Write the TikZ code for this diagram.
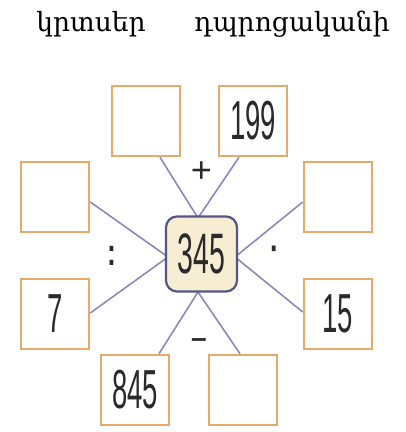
\documentclass[tikz,border=0pt]{standalone}
\usepackage{fontspec}
\newfontfamily\armfont{DejaVu Serif}
\newfontfamily\numfont[FakeStretch=0.5]{Liberation Sans}
\newfontfamily\opfont[FakeStretch=0.7]{Liberation Sans}
\newfontfamily\plusfont{Liberation Sans}
\definecolor{boxorange}{HTML}{E6AA6A}
\definecolor{linecol}{HTML}{8C89B8}
\definecolor{centerborder}{HTML}{55558A}
\definecolor{centerfill}{HTML}{F7EDD3}
\definecolor{numcol}{HTML}{2A2A2A}
\tikzset{
  numbox/.style={draw=boxorange, line width=2.6pt, fill=white, minimum width=68pt, minimum height=70pt, inner sep=0pt, font=\numfont\fontsize{55}{55}\selectfont, text=numcol},
  centerbox/.style={draw=centerborder, line width=2.2pt, fill=centerfill, rounded corners=11pt, minimum width=71pt, minimum height=75pt, inner sep=0pt, font=\numfont\fontsize{57}{57}\selectfont, text=numcol},
  link/.style={draw=linecol, line width=1.6pt},
  opsym/.style={text=numcol, inner sep=0pt},
  title/.style={font=\armfont\fontsize{26.5}{26.5}\selectfont, anchor=base, inner sep=0pt}
}
\begin{document}
\begin{tikzpicture}[x=1pt,y=-1pt]
\useasboundingbox (0,0) rectangle (406,432);
\node[title] (t1) at (91,31) {կրտսեր};
\node[title] (t2) at (292,31) {դպրոցականի};
% junction points on the center box
\coordinate (jt) at (198,218);
\coordinate (jb) at (198,292);
\coordinate (jl) at (168,257);
\coordinate (jr) at (235,257);
% boxes
\node[numbox] (tl) at (146,121) {};
\node[numbox] (tr) at (253,121) {199};
\node[numbox] (ul) at (55,197) {};
\node[numbox] (ur) at (338,197) {};
\node[numbox] (ll) at (55,314) {7};
\node[numbox] (lr) at (338,314) {15};
\node[numbox] (bl) at (135,390) {845};
\node[numbox] (br) at (243,390) {};
% connectors
\draw[link] (tl.south -| 160,0) -- (jt);
\draw[link] (tr.south -| 239,0) -- (jt);
\draw[link] (ul.east |- 0,202) -- (jl);
\draw[link] (ll.east |- 0,313) -- (jl);
\draw[link] (ur.west |- 0,202) -- (jr);
\draw[link] (lr.west |- 0,312) -- (jr);
\draw[link] (bl.north -| 159,0) -- (jb);
\draw[link] (br.north -| 240,0) -- (jb);
% center
\node[centerbox] (c) at (201.5,254) {345};
% operation signs
\node[opsym, font=\plusfont\fontsize{36}{36}\selectfont] (plus) at (201.5,172) {+};
\node[opsym, font=\opfont\bfseries\fontsize{38}{38}\selectfont] (div) at (112,256) {:};
\node[opsym, font=\opfont\bfseries\fontsize{38}{38}\selectfont] (mul) at (275,254) {·};
\node[opsym, font=\plusfont\bfseries\fontsize{28}{28}\selectfont] (minus) at (199,343) {–};
\end{tikzpicture}
\end{document}
